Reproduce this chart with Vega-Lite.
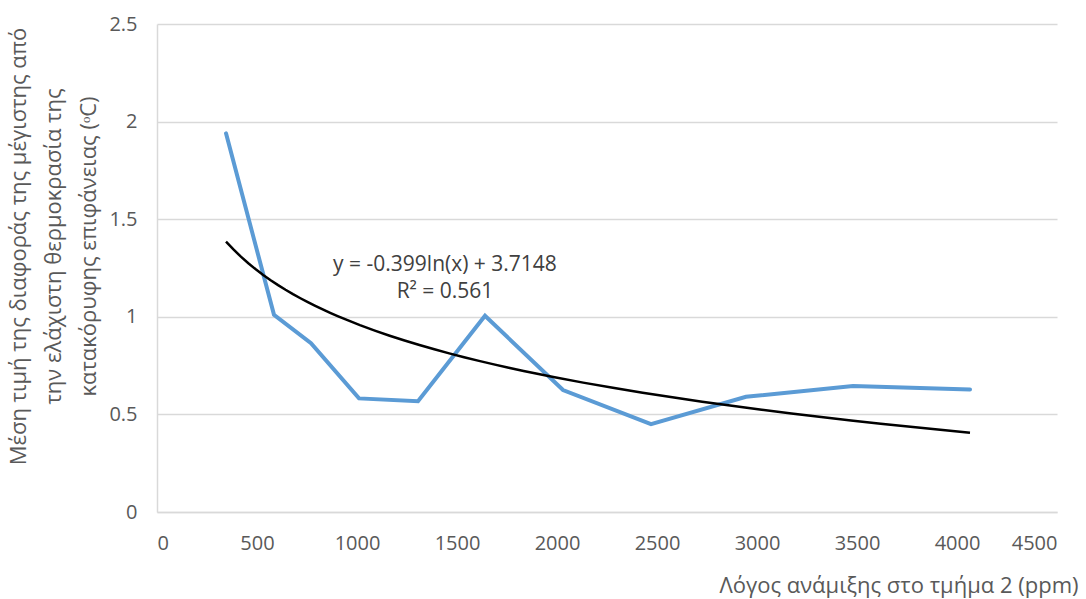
{
  "$schema": "https://vega.github.io/schema/vega-lite/v6.json",
  "width": 900,
  "height": 488,
  "autosize": {"type": "none"},
  "padding": {"left": 157, "top": 24, "right": 29, "bottom": 87},
  "background": "white",
  "config": {
    "view": {"stroke": null},
    "font": "Open Sans",
    "axis": {
      "labelFont": "Open Sans",
      "titleFont": "Open Sans",
      "labelColor": "#595959",
      "titleColor": "#595959",
      "labelFontSize": 20,
      "titleFontSize": 22,
      "titleFontWeight": "normal",
      "gridColor": "#d9d9d9",
      "gridWidth": 1.5,
      "domainColor": "#d9d9d9",
      "domainWidth": 1.5,
      "ticks": false
    }
  },
  "datasets": {
    "series": [
      {"x": 345, "y": 1.94},
      {"x": 585, "y": 1.01},
      {"x": 770, "y": 0.865},
      {"x": 1010, "y": 0.582},
      {"x": 1305, "y": 0.567},
      {"x": 1640, "y": 1.005},
      {"x": 2030, "y": 0.625},
      {"x": 2470, "y": 0.45},
      {"x": 2945, "y": 0.59},
      {"x": 3480, "y": 0.645},
      {"x": 4065, "y": 0.628}
    ],
    "notes": [
      {"x": 1440, "y": 1.265, "t": "y = -0.399ln(x) + 3.7148"},
      {"x": 1440, "y": 1.127, "t": "R² = 0.561"}
    ]
  },
  "layer": [
    {
      "data": {"name": "series"},
      "mark": {"type": "line", "color": "#5b9bd5", "strokeWidth": 4, "strokeCap": "round", "strokeJoin": "miter"},
      "encoding": {
        "x": {
          "field": "x", "type": "quantitative",
          "scale": {"domain": [0, 4500], "nice": false, "zero": false},
          "axis": {
            "values": [0, 500, 1000, 1500, 2000, 2500, 3000, 3500, 4000, 4500],
            "format": "d",
            "grid": false,
            "labelPadding": 21,
            "title": "Λόγος ανάμιξης στο τμήμα 2 (ppm)",
            "titleAnchor": "end",
            "titleAlign": "right",
            "titleX": 921,
            "titleY": 73,
            "titleBaseline": "middle"
          }
        },
        "y": {
          "field": "y", "type": "quantitative",
          "scale": {"domain": [0, 2.5], "nice": false},
          "axis": {
            "values": [0, 0.5, 1, 1.5, 2, 2.5],
            "format": "~g",
            "labelPadding": 20,
            "domain": true,
            "title": ["Μέση τιμή της διαφοράς της μέγιστης από", "την ελάχιστη θερμοκρασία της", "κατακόρυφης επιφάνειας (ᵒC)"],
            "titleAngle": -90,
            "titleAlign": "center",
            "titleBaseline": "top",
            "titleLineHeight": 35,
            "titleX": -149,
            "titleY": 222
          }
        }
      }
    },
    {
      "data": {"name": "series"},
      "transform": [{"regression": "y", "on": "x", "method": "log"}],
      "mark": {"type": "line", "color": "#000000", "strokeWidth": 2.5},
      "encoding": {
        "x": {"field": "x", "type": "quantitative"},
        "y": {"field": "y", "type": "quantitative"}
      }
    },
    {
      "data": {"name": "notes"},
      "mark": {"type": "text", "fontSize": 21, "color": "#404040", "align": "center", "baseline": "middle", "font": "Open Sans"},
      "encoding": {
        "x": {"field": "x", "type": "quantitative"},
        "y": {"field": "y", "type": "quantitative"},
        "text": {"field": "t"}
      }
    }
  ]
}
